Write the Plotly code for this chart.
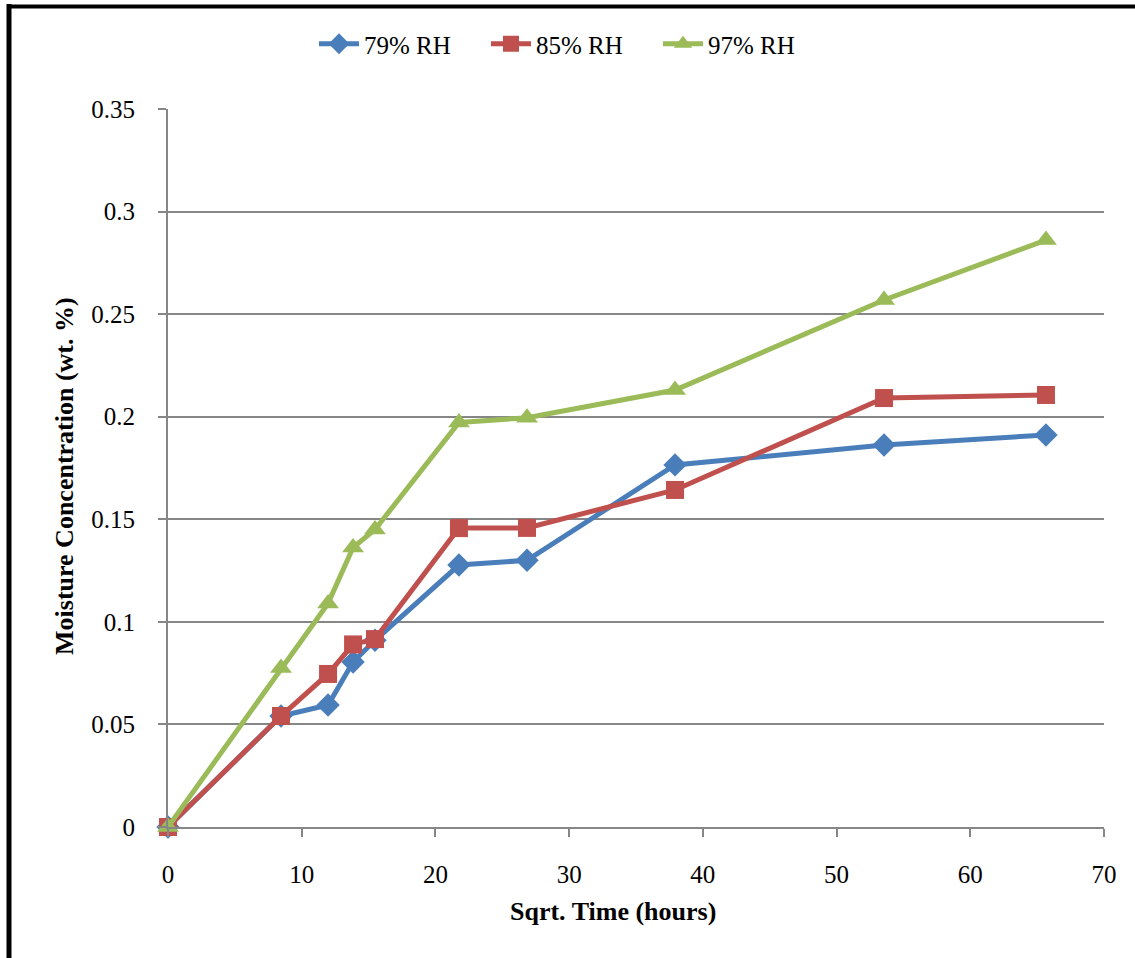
import plotly.graph_objects as go

x_time = [0, 8.45, 11.97, 13.84, 15.48, 21.76, 26.85, 37.92, 53.55, 65.66]
rh79 = [0, 0.0541, 0.0595, 0.0804, 0.0910, 0.1277, 0.1300, 0.1765, 0.1862, 0.1911]
rh85 = [0, 0.0541, 0.0746, 0.0890, 0.0916, 0.1457, 0.1458, 0.1643, 0.2091, 0.2106]
rh97 = [0, 0.0775, 0.1090, 0.1362, 0.1450, 0.1972, 0.1995, 0.2130, 0.2569, 0.2861]
names = ["79% RH", "85% RH", "97% RH"]
colors = ["#4A7EBB", "#C0504D", "#9BBB59"]
symbols = ["diamond", "square", "triangle-up"]
sizes = [18, 18, 19]
x_ticks = [0, 10, 20, 30, 40, 50, 60, 70]
y_ticks = [0, 0.05, 0.1, 0.15, 0.2, 0.25, 0.3, 0.35]
y_tick_text = ["0", "0.05", "0.1", "0.15", "0.2", "0.25", "0.3", "0.35"]

FONT = "Liberation Serif"
fig = go.Figure()
for ys, n, c, s, sz in zip([rh79, rh85, rh97], names, colors, symbols, sizes):
    fig.add_trace(go.Scatter(
        x=x_time, y=ys, name=n, mode="lines+markers",
        line=dict(color=c, width=5),
        marker=dict(symbol=s, size=sz, color=c, line=dict(width=0)),
        cliponaxis=False,
    ))

L, R, T, B = 168, 1104, 109, 827
W, H = 1135, 958

def px(x):
    return (x - L) / (R - L)

def py(y):
    return (B - y) / (B - T)

fig.update_layout(
    width=W, height=H,
    margin=dict(l=L, r=W - R, t=T, b=H - B, autoexpand=False),
    paper_bgcolor="white", plot_bgcolor="white",
    font=dict(family=FONT, size=25, color="black"),
    showlegend=True,
    legend=dict(orientation="h", xref="container", yref="container",
                x=314 / W, xanchor="left", y=1 - 44 / H, yanchor="middle",
                font=dict(family=FONT, size=25, color="black"),
                entrywidth=117, entrywidthmode="pixels",
                itemwidth=40, tracegroupgap=0, bgcolor="rgba(0,0,0,0)"),
    xaxis=dict(range=[0, 70], tickvals=x_ticks, ticktext=[str(v) for v in x_ticks],
               showgrid=False, zeroline=False, showline=True, linecolor="#868686",
               linewidth=1.8, ticks="outside", ticklen=8, tickcolor="#868686",
               tickwidth=1.8, ticklabelstandoff=16,
               tickfont=dict(family=FONT, size=25, color="black")),
    yaxis=dict(range=[0, 0.35], tickvals=y_ticks, ticktext=y_tick_text,
               showgrid=True, gridcolor="#868686", gridwidth=1.8,
               zeroline=False, showline=True, linecolor="#868686", linewidth=1.8,
               ticks="outside", ticklen=8, tickcolor="#868686", tickwidth=1.8,
               ticklabelstandoff=18,
               tickfont=dict(family=FONT, size=25, color="black")),
    annotations=[
        dict(text="<b>Sqrt. Time (hours)</b>", xref="paper", yref="paper",
             x=px(613), y=py(911), xanchor="center", yanchor="middle",
             showarrow=False, font=dict(family=FONT, size=26, color="black")),
        dict(text="<b>Moisture Concentration (wt. %)</b>", xref="paper", yref="paper",
             x=px(64), y=py(476), xanchor="center", yanchor="middle", textangle=-90,
             showarrow=False, font=dict(family=FONT, size=26, color="black")),
    ],
    shapes=[
        dict(type="line", xref="paper", yref="paper", x0=px(9), x1=px(9),
             y0=py(4), y1=py(1000), line=dict(color="black", width=5)),
        dict(type="line", xref="paper", yref="paper", x0=px(7), x1=px(1200),
             y0=py(6.5), y1=py(6.5), line=dict(color="black", width=4)),
    ],
)

fig.write_html("out.html")
